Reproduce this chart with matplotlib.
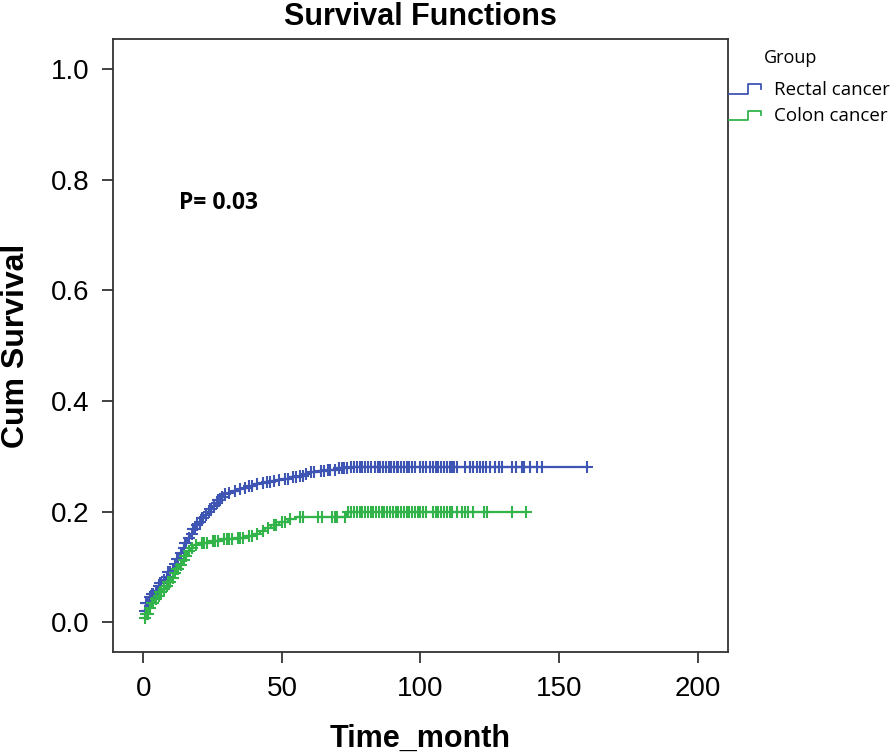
#!/usr/bin/env python3

import numpy as np
import matplotlib
matplotlib.use('Agg')
import matplotlib.pyplot as plt
from matplotlib.lines import Line2D
from matplotlib.legend_handler import HandlerBase

# step curves (time in months, cum survival)
rectal_time = [0, 1, 2, 3, 4, 5, 6, 7, 8, 9, 10, 11, 12, 13, 14, 15, 16, 17, 18, 19, 20,
               21, 22, 23, 24, 25, 26, 27, 28, 29, 30, 32, 34, 36, 38, 40, 42, 44, 46, 48,
               50, 53, 56, 58, 60, 63, 66, 70, 75]
rectal_cum = [0.020, 0.035, 0.045, 0.050, 0.057, 0.065, 0.070, 0.077, 0.082, 0.090,
              0.097, 0.105, 0.115, 0.125, 0.135, 0.143, 0.152, 0.160, 0.168, 0.175,
              0.182, 0.188, 0.193, 0.199, 0.205, 0.211, 0.216, 0.221, 0.226, 0.231,
              0.234, 0.237, 0.240, 0.243, 0.247, 0.250, 0.252, 0.254, 0.256, 0.257,
              0.259, 0.262, 0.265, 0.268, 0.271, 0.273, 0.276, 0.278, 0.281]
rectal_censored = [0.5, 1, 1.5, 2.5, 3, 3.5, 4.5, 5.5, 6, 6.5, 7.5, 8.5, 9, 9.5, 10.5,
                   11.5, 12, 12.5, 13.5, 14.5, 15, 15.5, 16.5, 17.5, 18, 18.5, 19.5, 20.5,
                   21, 21.5, 22.5, 23.5, 24, 24.5, 25.5, 26.5, 27, 27.5, 28.5, 29.5, 31, 33,
                   35, 36.5, 38, 39, 41, 43, 44.5, 45.5, 47, 49, 51, 52, 54, 55, 56.5, 57.5,
                   58.5, 60.5, 61.5, 64, 65, 66.5, 67.5, 69, 70.5, 71.5, 72.5, 73.5, 75, 76,
                   77, 78, 79, 80, 81, 82, 83.6, 84.5, 85.5, 86.5, 87.5, 88.5, 89.5, 90.5,
                   91.5, 92, 93, 94, 95, 96, 97, 98, 100, 101, 102, 103.5, 104.5, 105.5,
                   106.5, 107.5, 108.5, 109.5, 110.5, 111.5, 112, 113, 116, 118, 119,
                   120.3, 121.5, 122.6, 123.8, 125, 127, 128.5, 129.4, 133, 134.5, 136.6,
                   137.5, 139.5, 142, 144, 160]

colon_time = [0, 1, 2, 3, 4, 5, 6, 7, 8, 9, 10, 11, 12, 13, 14, 15, 16, 17, 18, 20, 24,
              28, 33, 37, 40, 42, 44, 46, 49, 52, 55, 73]
colon_cum = [0.008, 0.015, 0.025, 0.035, 0.042, 0.048, 0.054, 0.060, 0.066, 0.072,
             0.080, 0.088, 0.096, 0.104, 0.112, 0.120, 0.128, 0.135, 0.140, 0.143,
             0.147, 0.150, 0.153, 0.156, 0.160, 0.165, 0.170, 0.176, 0.181, 0.186,
             0.190, 0.200]
colon_censored = [0.5, 1, 1.5, 2.5, 3, 3.5, 4.5, 5.5, 6, 6.5, 7.5, 8.5, 9, 9.5, 10.5,
                  11.5, 12, 12.5, 13.5, 14.5, 15, 15.5, 16.5, 17.5, 19, 21, 22, 23, 25,
                  26, 27, 29, 30, 31, 32, 34, 35, 36, 38, 39, 41, 43, 45, 47, 48, 50, 51,
                  53, 56.5, 57.5, 63, 64.5, 68, 69, 70, 72.8, 74, 75, 76, 77, 78, 79, 80,
                  81, 82, 83, 84, 85, 86, 87, 88, 89, 90, 91, 92, 93, 94, 95, 96, 97, 98,
                  99, 100, 101, 102, 104.5, 105.5, 106.5, 107.5, 108.5, 109.5, 110.5,
                  111.5, 113, 115, 116, 117, 119, 123, 124, 133, 138]

group_labels = ['Rectal cancer', 'Colon cancer']
rectal_color = '#3f55b4'
colon_color = '#33b44a'
p_text = 'P= 0.03'

plt.rcParams['font.family'] = ['Liberation Sans', 'DejaVu Sans']


class StepHandler(HandlerBase):
    # little step shaped legend key like spss draws
    def create_artists(self, legend, orig_handle, xdescent, ydescent,
                       width, height, fontsize, trans):
        lo = -ydescent + 0.1 * height
        hi = -ydescent + 0.8 * height
        mid = -ydescent + 0.45 * height
        x0 = -xdescent
        xs = [x0, x0 + 0.6 * width, x0 + 0.6 * width, x0 + width, x0 + width]
        ys = [lo, lo, hi, hi, mid]
        line = Line2D(xs, ys, color=orig_handle.get_color(), linewidth=1.3, transform=trans)
        return [line]


def draw_km(ax, times, cum, censored, last, color):
    t = np.array(times + [last], dtype=float)
    s = np.array(cum + [cum[-1]], dtype=float)
    ax.step(t, s, where='post', color=color, linewidth=1.6)
    # censor marks sit on the curve
    c = np.array(censored, dtype=float)
    idx = np.searchsorted(np.array(times, dtype=float), c, side='right') - 1
    ax.plot(c, np.array(cum)[idx], linestyle='none', marker='+', markersize=9,
            markeredgewidth=1.5, color=color)


fig = plt.figure(figsize=(8.96, 7.56), dpi=100)
ax = fig.add_axes([0.1261, 0.1376, 0.6864, 0.8108])

draw_km(ax, rectal_time, rectal_cum, rectal_censored, max(rectal_censored), rectal_color)
draw_km(ax, colon_time, colon_cum, colon_censored, max(colon_censored), colon_color)

ax.set_xlim(-11, 211)
ax.set_ylim(-0.054, 1.055)
ax.set_xticks([0, 50, 100, 150, 200])
ax.set_yticks([0.0, 0.2, 0.4, 0.6, 0.8, 1.0])
ax.set_yticklabels(['0.0', '0.2', '0.4', '0.6', '0.8', '1.0'])
ax.tick_params(direction='out', length=8, width=1.2, labelsize=20, pad=9, color='#222222')
for sp in ax.spines.values():
    sp.set_linewidth(1.3)
    sp.set_color('#333333')

ax.set_title('Survival Functions', fontsize=22, fontweight='bold', pad=10)
ax.set_xlabel('Time_month', fontsize=22, fontweight='bold', labelpad=16)
ax.set_ylabel('Cum Survival', fontsize=23, fontweight='bold', labelpad=14)

ax.text(13, 0.758, p_text, fontsize=16.5, fontweight='bold', va='center', ha='left',
        family=['Open Sans', 'DejaVu Sans'])

# legend outside on the right
handles = [Line2D([], [], color=rectal_color), Line2D([], [], color=colon_color)]
fig.text(0.853, 0.923, 'Group', fontsize=13, ha='left', va='center',
         family=['Open Sans', 'DejaVu Sans'])
fig.legend(handles, group_labels, loc='upper left', bbox_to_anchor=(0.814, 0.893),
           frameon=False, handlelength=1.7, handletextpad=0.7,
           labelspacing=0.45, borderpad=0, borderaxespad=0,
           handler_map={Line2D: StepHandler()},
           prop={'family': ['Open Sans', 'DejaVu Sans'], 'size': 13.5})

plt.savefig('out.png', dpi=100)
